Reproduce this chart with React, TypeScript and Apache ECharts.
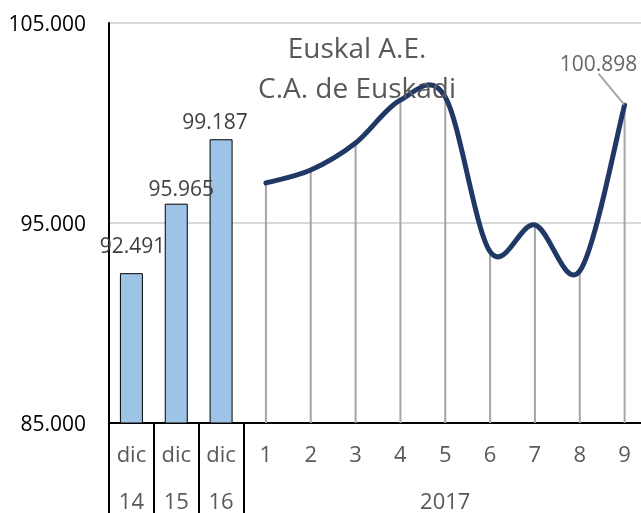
import React, { useEffect, useRef } from "react";
import * as echarts from "echarts";

const monthRow1 = ["dic", "dic", "dic", "1", "2", "3", "4", "5", "6", "7", "8", "9"];
const monthRow2 = ["14", "15", "16", "", "", "", "", "2017", "", "", "", ""];
const barValues = [92491, 95965, 99187];
const lineValues = [97000, 97650, 99000, 101150, 101300, 93570, 94900, 92600, 100898];
const yMin = 85000;
const yMax = 105000;
const yInterval = 10000;
const titleLines = ["Euskal A.E.", "C.A. de Euskadi"];

const fmt = (v: number) => String(Math.round(v)).replace(/\B(?=(\d{3})+(?!\d))/g, ".");

export default function App() {
  const ref = useRef<HTMLDivElement>(null);
  useEffect(() => {
    if (!ref.current) return;
    const chart = echarts.init(ref.current, null, { renderer: "svg" });
    const categories = monthRow1.map((r, i) => (monthRow2[i] ? r + "\n" + monthRow2[i] : r));
    const nBars = barValues.length;
    const barOffsets = [
      [1, -13],
      [5, 0],
      [-6, -3],
    ];
    const barData = categories.map((_, i) =>
      i < nBars ? { value: barValues[i], label: { offset: barOffsets[i] } } : null
    );
    const pointData = lineValues.map((v, j) => [j + nBars, v]);
    const lastPoint = [pointData[pointData.length - 1]];
    const font = "'Open Sans', sans-serif";
    chart.setOption({
      animation: false,
      textStyle: { fontFamily: font },
      title: {
        text: titleLines.join("\n"),
        left: 352,
        top: 22,
        textAlign: "center",
        textStyle: {
          fontSize: 28,
          lineHeight: 40,
          color: "#595959",
          fontWeight: "normal",
          fontFamily: font,
        },
      },
      grid: { left: 109, top: 23, width: 538, bottom: 90, outerBoundsMode: "none" },
      xAxis: {
        type: "category",
        data: categories,
        boundaryGap: true,
        axisLine: { show: true, lineStyle: { color: "#000", width: 2 } },
        axisTick: {
          show: true,
          interval: (index: number) => index <= nBars,
          length: 90,
          lineStyle: { color: "#000", width: 2 },
        },
        axisLabel: {
          interval: 0,
          color: "#595959",
          fontSize: 22,
          lineHeight: 47,
          margin: 6,
          fontFamily: font,
        },
        splitLine: { show: false },
      },
      yAxis: {
        type: "value",
        min: yMin,
        max: yMax,
        interval: yInterval,
        axisLine: { show: true, lineStyle: { color: "#000", width: 2 } },
        axisTick: { show: false },
        axisLabel: {
          color: "#000",
          fontSize: 21,
          margin: 23,
          fontFamily: font,
          formatter: (v: number) => fmt(v),
        },
        splitLine: { show: true, lineStyle: { color: "#D9D9D9", width: 2 } },
      },
      series: [
        {
          type: "custom",
          z: 1,
          data: pointData,
          encode: { x: 0, y: 1 },
          renderItem: (params: any, api: any) => {
            const x = api.value(0);
            const y = api.value(1);
            const p1 = api.coord([x, y]);
            const p0 = api.coord([x, yMin]);
            return {
              type: "line",
              shape: { x1: p1[0], y1: p1[1], x2: p0[0], y2: p0[1] },
              style: { stroke: "#A6A6A6", lineWidth: 2 },
            };
          },
        },
        {
          type: "bar",
          z: 2,
          data: barData,
          barWidth: 23,
          itemStyle: { color: "#9DC3E6", borderColor: "#000", borderWidth: 1 },
          label: {
            show: true,
            position: "top",
            color: "#404040",
            fontSize: 21,
            fontFamily: font,
            formatter: (p: any) => fmt(p.value),
          },
        },
        {
          type: "custom",
          z: 3,
          data: pointData,
          encode: { x: 0, y: 1 },
          clip: false,
          renderItem: (params: any, api: any) => {
            if (params.dataIndex !== 0) return null;
            const pts = pointData.map((d) => api.coord(d));
            const n = pts.length;
            let d = `M${pts[0][0]},${pts[0][1]}`;
            for (let i = 0; i < n - 1; i++) {
              const p0 = pts[Math.max(i - 1, 0)];
              const p1 = pts[i];
              const p2 = pts[i + 1];
              const p3 = pts[Math.min(i + 2, n - 1)];
              const c1x = p1[0] + (p2[0] - p0[0]) / 6;
              const c1y = p1[1] + (p2[1] - p0[1]) / 6;
              const c2x = p2[0] - (p3[0] - p1[0]) / 6;
              const c2y = p2[1] - (p3[1] - p1[1]) / 6;
              d += ` C${c1x},${c1y} ${c2x},${c2y} ${p2[0]},${p2[1]}`;
            }
            return {
              type: "path",
              shape: { pathData: d },
              style: { stroke: "#1F3864", lineWidth: 5, fill: "none", lineCap: "round", lineJoin: "round" },
            };
          },
        },
        {
          type: "scatter",
          z: 4,
          data: lastPoint,
          symbolSize: 1,
          itemStyle: { color: "#1F3864" },
          label: {
            show: true,
            position: "top",
            color: "#404040",
            fontSize: 21,
            fontFamily: font,
            formatter: (p: any) => fmt(p.value[1]),
          },
          labelLayout: { dx: -26, dy: -26 },
          labelLine: { show: true, lineStyle: { color: "#A6A6A6", width: 2 } },
        },
      ],
    });
    return () => chart.dispose();
  }, []);
  return (
    <div ref={ref} style={{ position: "fixed", left: 0, top: 0, width: 641, height: 513 }} />
  );
}
